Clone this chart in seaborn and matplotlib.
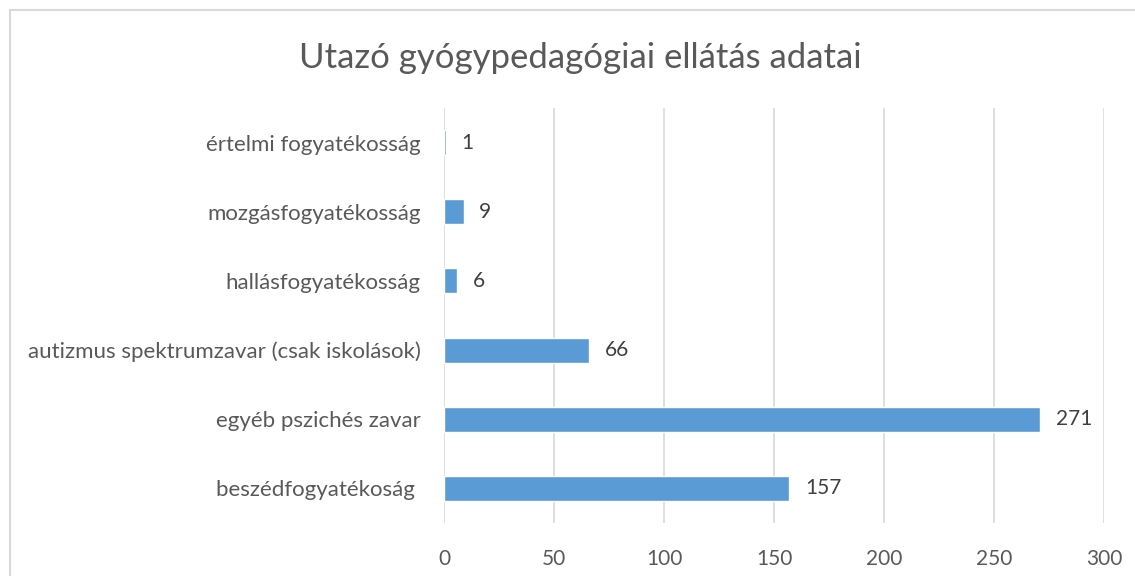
import matplotlib.pyplot as plt
import seaborn as sns
import pandas as pd
from matplotlib.patches import Rectangle

categories = [
    'értelmi fogyatékosság',
    'mozgásfogyatékosság',
    'hallásfogyatékosság',
    'autizmus spektrumzavar (csak iskolások)',
    'egyéb pszichés zavar',
    'beszédfogyatékoság ',
]
values = [1, 9, 6, 66, 271, 157]
x_ticks = [0, 50, 100, 150, 200, 250, 300]
title = 'Utazó gyógypedagógiai ellátás adatai'

sns.set_theme(style='white')
plt.rcParams['font.family'] = ['Lato', 'DejaVu Sans']

df = pd.DataFrame({'kategoria': categories, 'ertek': values})

fig = plt.figure(figsize=(11.35, 5.76), dpi=100)
ax = fig.add_axes([444 / 1135, 1 - 523 / 576, 660 / 1135, 415 / 576])

sns.barplot(data=df, y='kategoria', x='ertek', orient='h', color='#5B9BD5',
            saturation=1, width=0.36, ax=ax, zorder=3)

ax.set_xlim(0, 300)
ax.set_ylim(5.5, -0.5)
ax.set_xticks(x_ticks)
ax.set_xlabel('')
ax.set_ylabel('')
ax.grid(axis='x', color='#D9D9D9', linewidth=1.2, zorder=0)
for s in ax.spines.values():
    s.set_visible(False)
ax.tick_params(axis='x', length=0, pad=19, labelsize=15, labelcolor='#595959')
ax.tick_params(axis='y', length=0, pad=17, labelsize=16, labelcolor='#595959')

for i, v in enumerate(values):
    ax.text(v + 7, i, str(v), va='center', ha='left', fontsize=15, color='#404040')

fig.text(580 / 1135, 1 - 58 / 576, title, ha='center', va='center',
         fontsize=25, color='#595959')

fig.patches.append(Rectangle((10 / 1135, -0.1), 1.2, 1 - 10 / 576 + 0.1,
                             transform=fig.transFigure, fill=False,
                             edgecolor='#D9D9D9', linewidth=1.5))

fig.savefig('out.png', dpi=100)
